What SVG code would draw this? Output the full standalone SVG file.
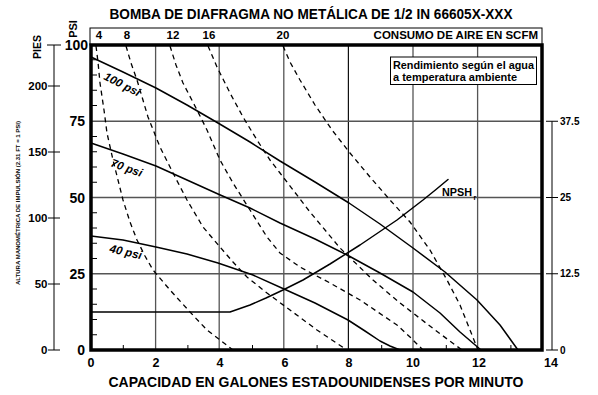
<svg xmlns="http://www.w3.org/2000/svg" width="598" height="395" viewBox="0 0 598 395">
<style>
text{font-family:"Liberation Sans",Arial,sans-serif;font-weight:bold;fill:#000}
.grid{stroke:#555;stroke-width:1.3;fill:none}
.gridk{stroke:#111;stroke-width:1.2;fill:none}
.tick{stroke:#000;stroke-width:1;fill:none}
.perf{fill:none;stroke:#000;stroke-width:1.5;stroke-linejoin:round;stroke-linecap:round}
.air{fill:none;stroke:#000;stroke-width:1.3;stroke-dasharray:5 4}
.lbl{font-style:italic;font-size:11.5px}
.ax{font-size:14px}
.bx{font-size:12.5px;text-anchor:middle}
.rax{font-size:10px}
.fax{font-size:11.5px;text-anchor:end}
</style>
<rect width="598" height="395" fill="#fff"/>
<text x="311" y="19" font-size="14" text-anchor="middle" textLength="403" lengthAdjust="spacingAndGlyphs">BOMBA DE DIAFRAGMA NO METÁLICA DE 1/2 IN 66605X-XXX</text>
<g id="top-band">
<rect x="90" y="28" width="452" height="17" fill="none" stroke="#000" stroke-width="1"/>
<text x="99" y="39" font-size="11.5" text-anchor="middle">4</text>
<text x="127" y="39" font-size="11.5" text-anchor="middle">8</text>
<text x="173" y="39" font-size="11.5" text-anchor="middle">12</text>
<text x="209" y="39" font-size="11.5" text-anchor="middle">16</text>
<text x="283" y="39" font-size="11.5" text-anchor="middle">20</text>
<text x="538" y="39" font-size="11.5" text-anchor="end">CONSUMO DE AIRE EN SCFM</text>
<text transform="translate(76.5,29) rotate(-90)" font-size="11" text-anchor="middle">PSI</text>
</g>
<g id="grid">
<line class="grid" x1="155.6" y1="45" x2="155.6" y2="350"/>
<line class="grid" x1="219.2" y1="45" x2="219.2" y2="350"/>
<line class="grid" x1="283.8" y1="45" x2="283.8" y2="350"/>
<line class="gridk" x1="348.4" y1="45" x2="348.4" y2="350"/>
<line class="grid" x1="413" y1="45" x2="413" y2="350"/>
<line class="grid" x1="477.6" y1="45" x2="477.6" y2="350"/>
<line class="grid" x1="91" y1="121.25" x2="542" y2="121.25"/>
<line class="grid" x1="91" y1="197.5" x2="542" y2="197.5"/>
<line class="grid" x1="91" y1="273.75" x2="542" y2="273.75"/>
</g>
<g id="minor-ticks" class="tick">
<path d="M91 59.75h6M91 75h6M91 90.25h6M91 105.5h6M91 136.5h6M91 151.75h6M91 167h6M91 182.25h6M91 212.75h6M91 228h6M91 243.25h6M91 258.5h6M91 289h6M91 304.25h6M91 319.5h6M91 334.75h6"/>
<path d="M123.3 350v-5M187.9 350v-5M252.5 350v-5M317.1 350v-5M381.7 350v-5M446.3 350v-5M510.9 350v-5"/>
</g>
<g id="air-curves">
<polyline class="air" points="96,46 98,62 100,83 104,110 107,133 113,160 118,180 123,200 130,222 137,240 145,256 153,270 170,290 190,312 207,330 220,340 233,350"/>
<polyline class="air" points="126,46 131,63 137,80 148,117 160,147 173,173 187,200 203,227 220,247 233,262 247,277 267,293 290,310 317,330 347,350"/>
<polyline class="air" points="170,46 176,65 183,83 197,110 207,130 220,160 233,183 250,210 267,237 280,253 300,267 330,283 360,300 397,325 410,337 423,350"/>
<polyline class="air" points="208,46 217,67 230,93 243,117 257,140 270,160 280,173 310,212 340,248 373,280 400,303 435,330 462,350"/>
<polyline class="air" points="283,46 290,62 300,80 315,105 332,130 350,153 370,177 390,200 410,222 430,250 447,280 460,305 470,330 478,350"/>
</g>
<g id="perf-curves">
<polyline id="psi100" class="perf" points="91,57 123,72 156,88 187,105 218,123 250,142 280,161 315,182 349,203 380,224 413,248 445,272 477,300 500,325 518,350"/>
<polyline id="psi70" class="perf" points="91,143 123,154 156,166 187,180 218,194 250,208 280,223 315,239 349,256 380,273 413,292 440,313 460,332 481,350"/>
<polyline id="psi40" class="perf" points="91,236 123,240 156,247 187,254 218,263 253,275 284,289 315,303 348,320 365,331 380,341 390,346 400,350"/>
<polyline id="npsh" class="perf" points="91,312 230,312 250,305 266,298 283,290 303,280 330,264 360,245 397,220 410,210 423,200 436,189.5 448,179.5"/>
<text class="lbl" transform="translate(103,79) rotate(27)">100 psi</text>
<text class="lbl" transform="translate(110,166) rotate(20)">70 psi</text>
<text class="lbl" transform="translate(109,252) rotate(13)">40 psi</text>
<text x="442" y="196" font-size="11" textLength="30" lengthAdjust="spacingAndGlyphs">NPSH</text>
<text x="473.5" y="200" font-size="7">r</text>
</g>
<g id="legend">
<rect x="390.5" y="57" width="146" height="27.5" fill="#fff" stroke="#000" stroke-width="1"/>
<text x="393" y="68.5" font-size="11" textLength="141" lengthAdjust="spacingAndGlyphs">Rendimiento según el agua</text>
<text x="393" y="80.5" font-size="11">a temperatura ambiente</text>
</g>
<rect id="frame" x="91" y="45" width="451" height="305" fill="none" stroke="#000" stroke-width="3.5"/>
<g id="psi-axis">
<text class="ax" x="88" y="50" text-anchor="end">100</text>
<text class="ax" x="85" y="126" text-anchor="end">75</text>
<text class="ax" x="85" y="202.5" text-anchor="end">50</text>
<text class="ax" x="85" y="278.5" text-anchor="end">25</text>
<text class="ax" x="85" y="355" text-anchor="end">0</text>
</g>
<g id="feet-axis">
<line class="tick" x1="54" y1="45" x2="54" y2="350"/>
<path class="tick" d="M47 45h14M48 86h12M48 152h12M48 218h12M48 284h12M48 350h12"/>
<text class="fax" x="47.5" y="90">200</text>
<text class="fax" x="47.5" y="156">150</text>
<text class="fax" x="47.5" y="222">100</text>
<text class="fax" x="47.5" y="288">50</text>
<text class="fax" x="47.5" y="354">0</text>
<text transform="translate(40.5,47) rotate(-90)" font-size="10.5" text-anchor="middle">PIES</text>
<text transform="translate(20,203) rotate(-90)" font-size="6" font-weight="normal" text-anchor="middle">ALTURA MANOMÉTRICA DE IMPULSIÓN (2.31 FT = 1 PSI)</text>
</g>
<g id="npsh-axis">
<line class="tick" x1="552" y1="121.25" x2="552" y2="350"/>
<path class="tick" d="M546 121.25h12M546 197.5h12M546 273.75h12M546 350h12"/>
<text class="rax" x="560" y="124.8">37.5</text>
<text class="rax" x="560" y="201">25</text>
<text class="rax" x="560" y="277.3">12.5</text>
<text class="rax" x="560" y="353.5">0</text>
</g>
<g id="x-axis">
<text class="bx" x="91" y="367">0</text>
<text class="bx" x="156" y="367">2</text>
<text class="bx" x="220" y="367">4</text>
<text class="bx" x="285" y="367">6</text>
<text class="bx" x="349" y="367">8</text>
<text class="bx" x="413" y="367">10</text>
<text class="bx" x="479" y="367">12</text>
<text class="bx" x="551" y="367">14</text>
<text x="316" y="387" font-size="14" text-anchor="middle" textLength="415" lengthAdjust="spacingAndGlyphs">CAPACIDAD EN GALONES ESTADOUNIDENSES POR MINUTO</text>
</g>
</svg>
